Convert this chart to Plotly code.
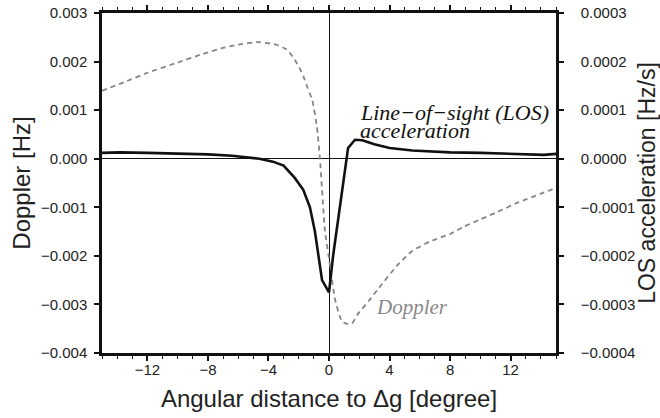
import plotly.graph_objects as go

# Doppler (left axis, Hz)
doppler_x = [-15, -13.5, -12, -10, -8.5, -7, -6, -4.7, -3.5, -2.8, -2.4, -2.0, -1.7, -1.4, -1.1,
             -0.8, -0.6, -0.26, 0.07, 0.4, 0.86, 1.2, 1.5, 1.9, 2.7, 3.2, 4.5, 5.5, 6.7, 8,
             8.9, 10, 11.1, 12.5, 14, 15]
doppler_y = [0.0014, 0.00158, 0.00177, 0.00198, 0.00214, 0.00228, 0.00235, 0.0024, 0.00235,
             0.00225, 0.0021, 0.0019, 0.0017, 0.00145, 0.0012, 0.00066, 0.0, -0.0015, -0.0022,
             -0.0029, -0.00335, -0.0034, -0.0034, -0.0032, -0.0029, -0.0027, -0.0022, -0.0019,
             -0.0017, -0.00155, -0.0014, -0.00125, -0.0011, -0.0009, -0.00072, -0.0006]

# LOS acceleration (right axis, Hz/s)
los_x = [-15, -13.8, -12, -10, -8, -6.4, -4.6, -3.7, -3.0, -2.25, -1.7, -1.26, -0.93, -0.46,
         0.0, 0.27, 0.6, 0.93, 1.26, 1.72, 2.2, 3, 4, 5.5, 6.7, 8, 10, 12, 14.2, 15]
los_y = [0.000012, 0.000013, 0.000012, 0.000011, 0.000009, 0.000006, 0.0, -0.000006,
         -0.000014, -0.00004, -0.000064, -0.0001, -0.00015, -0.00025, -0.000275, -0.0002,
         -0.000126, -0.000043, 0.000022, 0.000039, 0.000038, 0.00003, 0.000022, 0.000017,
         0.000015, 0.000013, 0.000012, 0.00001, 0.000008, 0.00001]

x_ticks = [-12, -8, -4, 0, 4, 8, 12]
left_ticks = [-0.004, -0.003, -0.002, -0.001, 0.0, 0.001, 0.002, 0.003]
right_ticks = [-0.0004, -0.0003, -0.0002, -0.0001, 0.0, 0.0001, 0.0002, 0.0003]

fig = go.Figure()
fig.add_trace(go.Scatter(x=doppler_x, y=doppler_y, mode="lines", name="Doppler",
                         line=dict(color="#858585", width=1.8, dash="5px,4px", shape="spline",
                                   smoothing=0.5),
                         yaxis="y"))
fig.add_trace(go.Scatter(x=los_x, y=los_y, mode="lines", name="LOS acceleration",
                         line=dict(color="#111111", width=2.6),
                         yaxis="y2"))
# invisible trace to anchor the top axis (ticks only)
fig.add_trace(go.Scatter(x=[-15, 15], y=[0, 0], mode="lines", line=dict(width=0),
                         xaxis="x2", yaxis="y", hoverinfo="skip", showlegend=False,
                         opacity=0))

axfont = dict(family="Liberation Sans, Arial, sans-serif", size=15, color="#222")
titlefont = dict(family="Liberation Sans, Arial, sans-serif", size=24, color="#222")
rtitlefont = dict(family="Liberation Sans, Arial, sans-serif", size=23, color="#222")

fig.update_layout(
    width=660, height=418,
    margin=dict(l=102, r=104, t=13, b=65),
    paper_bgcolor="white", plot_bgcolor="white",
    showlegend=False,
    xaxis=dict(range=[-15, 15], tickvals=x_ticks, ticks="outside", ticklen=5, tickwidth=1.5,
               tickcolor="#111", showline=True, linewidth=2.5, linecolor="#111",
               showgrid=False, zeroline=True, zerolinecolor="#111", zerolinewidth=1,
               tickfont=axfont, ticklabelstandoff=-4, automargin=False,
               minor=dict(dtick=1, ticks="outside", ticklen=3, tickwidth=1, tickcolor="#111",
                          showgrid=False),
               title=dict(text="Angular distance to Δg [degree]", font=titlefont, standoff=14)),
    xaxis2=dict(range=[-15, 15], overlaying="x", side="top", tickvals=x_ticks,
                ticks="outside", ticklen=5, tickwidth=1.5, tickcolor="#111",
                showticklabels=False, showline=True, linewidth=2.5, linecolor="#111",
                showgrid=False, zeroline=False, automargin=False,
                minor=dict(dtick=1, ticks="outside", ticklen=3, tickwidth=1, tickcolor="#111",
                           showgrid=False)),
    yaxis=dict(range=[-0.004, 0.003], tickvals=left_ticks, tickformat=".3f", ticks="outside",
               ticklen=5, tickwidth=1.5, tickcolor="#111", showline=True, linewidth=2.5,
               linecolor="#111", showgrid=False, zeroline=True, zerolinecolor="#111",
               zerolinewidth=1, tickfont=axfont, ticklabelstandoff=4, automargin=False,
               title=dict(text="Doppler [Hz]", font=titlefont, standoff=4)),
    yaxis2=dict(range=[-0.0004, 0.0003], tickvals=right_ticks, tickformat=".4f",
                overlaying="y", side="right", ticks="outside", ticklen=5, tickwidth=1.5,
                tickcolor="#111", showline=True, linewidth=2.5, linecolor="#111",
                showgrid=False, zeroline=False, tickfont=axfont, ticklabelstandoff=14,
                automargin=False,
                title=dict(text="LOS acceleration [Hz/s]", font=rtitlefont, standoff=8)),
    annotations=[
        dict(x=1.9, y=0.00095, xref="x", yref="y", text="Line−of−sight (LOS)",
             showarrow=False, xanchor="left", yanchor="middle",
             font=dict(family="Liberation Serif, Times New Roman, serif", size=22, color="#111",
                       style="italic")),
        dict(x=1.9, y=0.00058, xref="x", yref="y", text="acceleration",
             showarrow=False, xanchor="left", yanchor="middle",
             font=dict(family="Liberation Serif, Times New Roman, serif", size=22, color="#111",
                       style="italic")),
        dict(x=3.0, y=-0.00305, xref="x", yref="y", text="Doppler",
             showarrow=False, xanchor="left", yanchor="middle",
             font=dict(family="Liberation Serif, Times New Roman, serif", size=21, color="#888",
                       style="italic")),
    ],
)

fig.write_html("out.html")
